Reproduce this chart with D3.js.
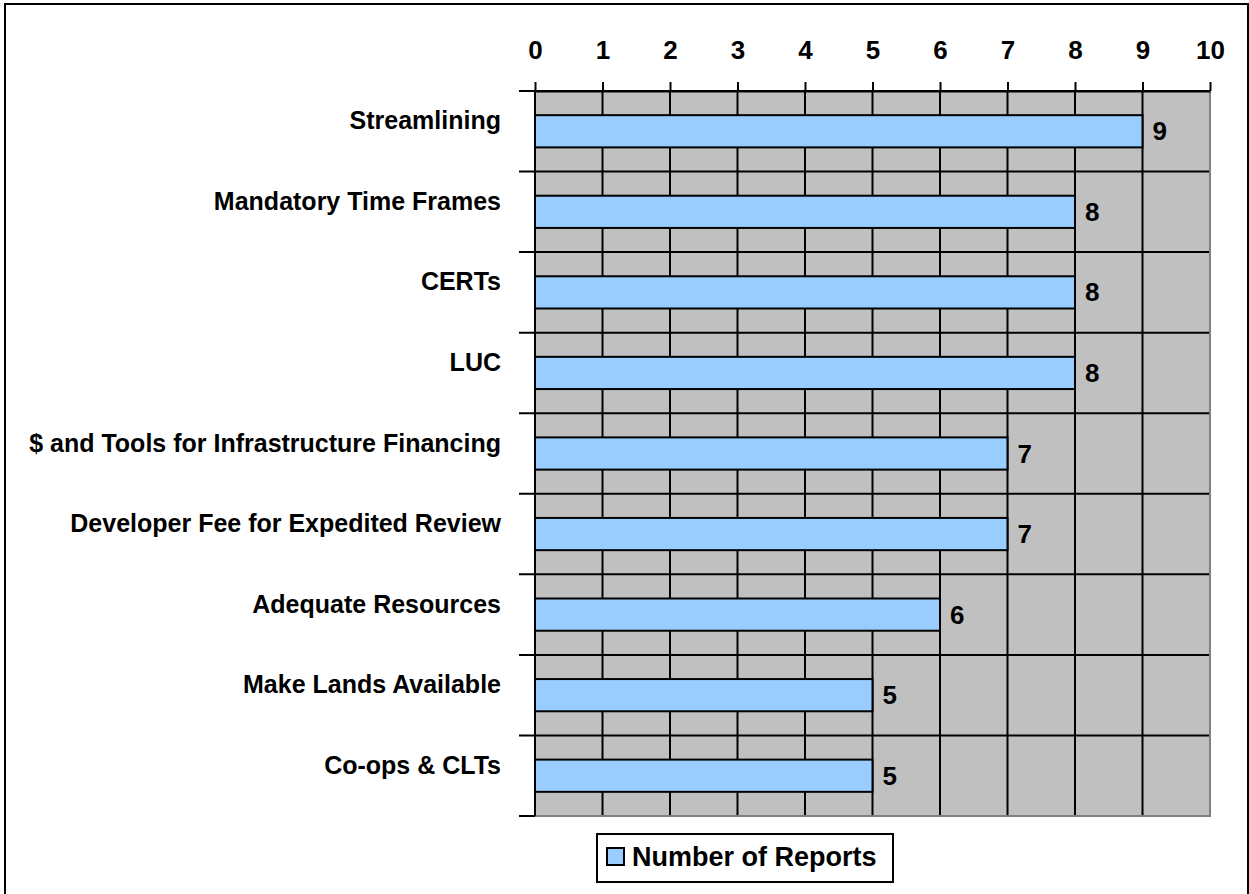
<!DOCTYPE html>
<html>
<head>
<meta charset="utf-8">
<script src="https://cdn.jsdelivr.net/npm/d3@7"></script>
<style>
  body { margin: 0; background: #fff; }
  svg { display: block; font-family: Arial, "Liberation Sans", sans-serif; font-weight: bold; }
</style>
</head>
<body>
<svg id="chart"></svg>
<script>
// data
const categories = ["Streamlining", "Mandatory Time Frames", "CERTs", "LUC",
    "$ and Tools for Infrastructure Financing", "Developer Fee for Expedited Review",
    "Adequate Resources", "Make Lands Available", "Co-ops & CLTs"];
const reports = [9, 8, 8, 8, 7, 7, 6, 5, 5];
const xTicks = [0, 1, 2, 3, 4, 5, 6, 7, 8, 9, 10];
const seriesName = "Number of Reports";

class BarChart {
    constructor(_config, _data) {
        this.config = {
            parentElement: _config.parentElement,
            containerWidth: 1249,
            containerHeight: 894,
            margin: {top: 91, right: 39, bottom: 78, left: 535}
        }
        this.data = _data;
        this.initVis();
    }

    initVis() {
        let vis = this;
        vis.width = vis.config.containerWidth - vis.config.margin.left - vis.config.margin.right;
        vis.height = vis.config.containerHeight - vis.config.margin.top - vis.config.margin.bottom;

        vis.svg = d3.select(vis.config.parentElement)
            .attr('width', vis.config.containerWidth)
            .attr('height', vis.config.containerHeight);

        // outer frame
        vis.svg.append('rect')
            .attr('x', 5).attr('y', 4)
            .attr('width', 1243).attr('height', 900)
            .attr('fill', '#fff').attr('stroke', '#000').attr('stroke-width', 2);

        vis.x = d3.scaleLinear().domain([0, 10]).range([0, vis.width]);
        vis.y = d3.scaleBand().domain(categories).range([0, vis.height]).padding(0);

        vis.chart = vis.svg.append('g')
            .attr('transform', `translate(${vis.config.margin.left},${vis.config.margin.top})`);

        vis.renderVis();
    }

    renderVis() {
        let vis = this;
        const bw = vis.y.bandwidth();

        vis.chart.append('rect')
            .attr('width', vis.width).attr('height', vis.height)
            .attr('fill', '#c0c0c0');

        // vertical gridlines
        vis.chart.selectAll('.vgrid')
            .data(xTicks)
            .join('line')
            .attr('x1', d => vis.x(d)).attr('x2', d => vis.x(d))
            .attr('y1', 0).attr('y2', vis.height)
            .attr('stroke', '#000').attr('stroke-width', 2);

        // horizontal lines at category boundaries, with tick stubs on the left
        const bounds = categories.map(c => vis.y(c)).concat([vis.height]);
        vis.chart.selectAll('.hgrid')
            .data(bounds)
            .join('line')
            .attr('x1', -16).attr('x2', vis.width)
            .attr('y1', d => d).attr('y2', d => d)
            .attr('stroke', '#000').attr('stroke-width', 2);

        // plot border right / bottom
        vis.chart.append('path')
            .attr('d', `M${vis.width},0V${vis.height}H0`)
            .attr('fill', 'none').attr('stroke', '#808080').attr('stroke-width', 2);
        vis.chart.append('line')
            .attr('x1', -16).attr('x2', 0)
            .attr('y1', vis.height).attr('y2', vis.height)
            .attr('stroke', '#000').attr('stroke-width', 2);
        vis.chart.append('line')
            .attr('x1', 0).attr('x2', 0)
            .attr('y1', 0).attr('y2', vis.height)
            .attr('stroke', '#000').attr('stroke-width', 2);

        // top axis
        const xAxis = d3.axisTop(vis.x).tickValues(xTicks).tickSize(9).tickSizeOuter(0).tickPadding(23);
        const gx = vis.chart.append('g').call(xAxis);
        gx.select('.domain').attr('stroke', '#000').attr('stroke-width', 2);
        gx.selectAll('.tick line').attr('stroke', '#000').attr('stroke-width', 2);
        gx.selectAll('.tick text')
            .attr('fill', '#000')
            .style('font-size', '26px').style('font-family', 'Arial, "Liberation Sans", sans-serif')
            .style('font-weight', 'bold');

        // bars
        vis.chart.selectAll('.bar')
            .data(vis.data)
            .join('rect')
            .attr('x', 0)
            .attr('y', d => vis.y(d.cat) + bw * 0.3)
            .attr('width', d => vis.x(d.value))
            .attr('height', bw * 0.4)
            .attr('fill', '#99ccff')
            .attr('stroke', '#000').attr('stroke-width', 2);

        // value labels
        vis.chart.selectAll('.val')
            .data(vis.data)
            .join('text')
            .attr('x', d => vis.x(d.value) + 10)
            .attr('y', d => vis.y(d.cat) + bw / 2 + 9)
            .style('font-size', '26px')
            .text(d => d.value);

        // category labels
        vis.chart.selectAll('.cat')
            .data(vis.data)
            .join('text')
            .attr('x', -34)
            .attr('y', d => vis.y(d.cat) + bw / 2 - 2)
            .attr('text-anchor', 'end')
            .style('font-size', '25px')
            .text(d => d.cat);

        // legend
        const lg = vis.svg.append('g').attr('transform', 'translate(597,834)');
        lg.append('rect')
            .attr('width', 296).attr('height', 48)
            .attr('fill', '#fff').attr('stroke', '#000').attr('stroke-width', 2);
        lg.append('rect')
            .attr('x', 10).attr('y', 14).attr('width', 17).attr('height', 17)
            .attr('fill', '#99ccff').attr('stroke', '#000').attr('stroke-width', 2);
        lg.append('text')
            .attr('x', 35).attr('y', 32)
            .style('font-size', '27px')
            .text(seriesName);
    }
}

const data = categories.map((c, i) => ({cat: c, value: reports[i]}));
new BarChart({parentElement: '#chart'}, data);
</script>
</body>
</html>
